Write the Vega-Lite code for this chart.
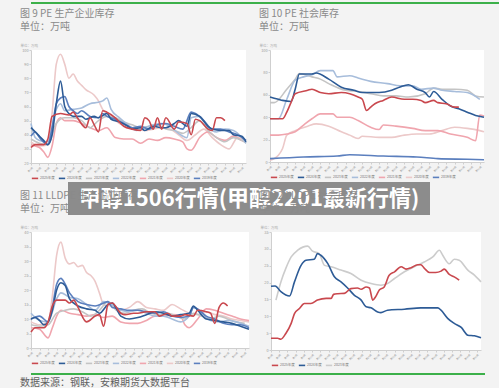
{
"$schema":"https://vega.github.io/schema/vega-lite/v6.json",
"padding":{"left":17,"top":2,"right":0,"bottom":0},
"spacing":-1,
"resolve":{"scale":{"color":"independent","strokeWidth":"independent"},"legend":{"color":"independent"}},
"config":{
 "background":"#f3f3f3",
 "font":"Noto Sans CJK SC",
 "view":{"stroke":null},
 "title":{"anchor":"start","fontSize":10,"fontWeight":"normal","color":"#8a8a8a","subtitleFontSize":10,"subtitleColor":"#8a8a8a","subtitlePadding":3.5,"offset":10.7,"dx":3,"font":"Noto Sans CJK SC","subtitleFont":"Noto Sans CJK SC"},
 "axis":{"labelFontSize":3.8,"labelColor":"#999","domainColor":"#cfcfcf","tickColor":"#cfcfcf","tickSize":2,"labelPadding":1,"grid":false},
 "axisY":{"minExtent":14,"maxExtent":14,"titleAngle":0,"titleAlign":"left","titleBaseline":"bottom","titleX":-11,"titleY":-3,"titleFontSize":3.5,"titleColor":"#aaa","titleFontWeight":"normal"},
 "axisX":{"labelAngle":-45,"labelFontSize":2.4,"title":null},
 "legend":{"orient":"bottom","direction":"horizontal","symbolType":"stroke","symbolSize":40,"symbolStrokeWidth":1.5,"labelFontSize":3.5,"labelColor":"#777","columnPadding":0,"offset":1,"padding":0,"labelOffset":1,"rowPadding":0},
 "line":{"interpolate":"monotone"}
},
"datasets":{
"p9":[
{"s":"2020年度","w":1,"v":35},{"s":"2020年度","w":3,"v":32},{"s":"2020年度","w":5,"v":33},{"s":"2020年度","w":6,"v":55},{"s":"2020年度","w":7,"v":90},{"s":"2020年度","w":8,"v":97},{"s":"2020年度","w":9,"v":90},{"s":"2020年度","w":10,"v":80},{"s":"2020年度","w":11,"v":83},{"s":"2020年度","w":12,"v":78},{"s":"2020年度","w":13,"v":75},{"s":"2020年度","w":14,"v":72},{"s":"2020年度","w":16,"v":68},{"s":"2020年度","w":17,"v":64},{"s":"2020年度","w":18,"v":58},{"s":"2020年度","w":19,"v":55},{"s":"2020年度","w":20,"v":53},{"s":"2020年度","w":22,"v":48},{"s":"2020年度","w":24,"v":46},{"s":"2020年度","w":26,"v":44},{"s":"2020年度","w":28,"v":43},{"s":"2020年度","w":30,"v":44},{"s":"2020年度","w":32,"v":45},{"s":"2020年度","w":34,"v":44},{"s":"2020年度","w":36,"v":40},{"s":"2020年度","w":38,"v":36},{"s":"2020年度","w":40,"v":40},{"s":"2020年度","w":42,"v":44},{"s":"2020年度","w":44,"v":38},{"s":"2020年度","w":46,"v":33},{"s":"2020年度","w":48,"v":30},{"s":"2020年度","w":50,"v":38},{"s":"2020年度","w":52,"v":36},
{"s":"2021年度","w":1,"v":33},{"s":"2021年度","w":2,"v":32},{"s":"2021年度","w":3,"v":31},{"s":"2021年度","w":4,"v":28},{"s":"2021年度","w":5,"v":24},{"s":"2021年度","w":6,"v":32},{"s":"2021年度","w":7,"v":48},{"s":"2021年度","w":8,"v":52},{"s":"2021年度","w":9,"v":50},{"s":"2021年度","w":11,"v":50},{"s":"2021年度","w":13,"v":48},{"s":"2021年度","w":15,"v":45},{"s":"2021年度","w":17,"v":43},{"s":"2021年度","w":19,"v":45},{"s":"2021年度","w":21,"v":38},{"s":"2021年度","w":23,"v":37},{"s":"2021年度","w":25,"v":37},{"s":"2021年度","w":27,"v":34},{"s":"2021年度","w":29,"v":37},{"s":"2021年度","w":31,"v":36},{"s":"2021年度","w":33,"v":38},{"s":"2021年度","w":35,"v":37},{"s":"2021年度","w":37,"v":35},{"s":"2021年度","w":38,"v":30},{"s":"2021年度","w":39,"v":29},{"s":"2021年度","w":41,"v":38},{"s":"2021年度","w":43,"v":42},{"s":"2021年度","w":45,"v":38},{"s":"2021年度","w":47,"v":36},{"s":"2021年度","w":49,"v":39},{"s":"2021年度","w":51,"v":36},{"s":"2021年度","w":52,"v":35},
{"s":"2023年度","w":1,"v":37},{"s":"2023年度","w":3,"v":34},{"s":"2023年度","w":5,"v":33},{"s":"2023年度","w":7,"v":48},{"s":"2023年度","w":9,"v":52},{"s":"2023年度","w":11,"v":52},{"s":"2023年度","w":13,"v":50},{"s":"2023年度","w":15,"v":45},{"s":"2023年度","w":17,"v":50},{"s":"2023年度","w":19,"v":53},{"s":"2023年度","w":21,"v":52},{"s":"2023年度","w":23,"v":49},{"s":"2023年度","w":25,"v":47},{"s":"2023年度","w":27,"v":45},{"s":"2023年度","w":29,"v":46},{"s":"2023年度","w":31,"v":47},{"s":"2023年度","w":33,"v":44},{"s":"2023年度","w":35,"v":43},{"s":"2023年度","w":37,"v":41},{"s":"2023年度","w":39,"v":45},{"s":"2023年度","w":41,"v":50},{"s":"2023年度","w":43,"v":43},{"s":"2023年度","w":45,"v":38},{"s":"2023年度","w":47,"v":35},{"s":"2023年度","w":49,"v":38},{"s":"2023年度","w":51,"v":36},{"s":"2023年度","w":52,"v":34},
{"s":"2022年度","w":1,"v":48},{"s":"2022年度","w":2,"v":38},{"s":"2022年度","w":3,"v":36},{"s":"2022年度","w":5,"v":35},{"s":"2022年度","w":7,"v":58},{"s":"2022年度","w":8,"v":62},{"s":"2022年度","w":9,"v":57},{"s":"2022年度","w":11,"v":58},{"s":"2022年度","w":13,"v":59},{"s":"2022年度","w":15,"v":62},{"s":"2022年度","w":17,"v":63},{"s":"2022年度","w":18,"v":64},{"s":"2022年度","w":19,"v":66},{"s":"2022年度","w":20,"v":58},{"s":"2022年度","w":22,"v":52},{"s":"2022年度","w":24,"v":47},{"s":"2022年度","w":26,"v":43},{"s":"2022年度","w":28,"v":45},{"s":"2022年度","w":30,"v":47},{"s":"2022年度","w":32,"v":48},{"s":"2022年度","w":34,"v":46},{"s":"2022年度","w":36,"v":41},{"s":"2022年度","w":38,"v":38},{"s":"2022年度","w":39,"v":52},{"s":"2022年度","w":41,"v":53},{"s":"2022年度","w":43,"v":45},{"s":"2022年度","w":45,"v":42},{"s":"2022年度","w":47,"v":44},{"s":"2022年度","w":49,"v":43},{"s":"2022年度","w":51,"v":38},{"s":"2022年度","w":52,"v":34},
{"s":"2019年度","w":1,"v":39},{"s":"2019年度","w":2,"v":42},{"s":"2019年度","w":3,"v":38},{"s":"2019年度","w":5,"v":33},{"s":"2019年度","w":6,"v":45},{"s":"2019年度","w":7,"v":62},{"s":"2019年度","w":8,"v":66},{"s":"2019年度","w":9,"v":67},{"s":"2019年度","w":10,"v":60},{"s":"2019年度","w":11,"v":57},{"s":"2019年度","w":12,"v":55},{"s":"2019年度","w":13,"v":57},{"s":"2019年度","w":15,"v":53},{"s":"2019年度","w":17,"v":52},{"s":"2019年度","w":18,"v":55},{"s":"2019年度","w":19,"v":53},{"s":"2019年度","w":21,"v":51},{"s":"2019年度","w":23,"v":48},{"s":"2019年度","w":25,"v":45},{"s":"2019年度","w":27,"v":46},{"s":"2019年度","w":29,"v":44},{"s":"2019年度","w":31,"v":47},{"s":"2019年度","w":33,"v":48},{"s":"2019年度","w":35,"v":46},{"s":"2019年度","w":37,"v":44},{"s":"2019年度","w":39,"v":56},{"s":"2019年度","w":40,"v":55},{"s":"2019年度","w":42,"v":50},{"s":"2019年度","w":44,"v":44},{"s":"2019年度","w":46,"v":44},{"s":"2019年度","w":48,"v":42},{"s":"2019年度","w":50,"v":40},{"s":"2019年度","w":52,"v":36},
{"s":"2024年度","w":1,"v":45},{"s":"2024年度","w":2,"v":42},{"s":"2024年度","w":3,"v":39},{"s":"2024年度","w":4,"v":36},{"s":"2024年度","w":5,"v":33},{"s":"2024年度","w":6,"v":40},{"s":"2024年度","w":7,"v":62},{"s":"2024年度","w":8,"v":78},{"s":"2024年度","w":9,"v":60},{"s":"2024年度","w":10,"v":55},{"s":"2024年度","w":11,"v":53},{"s":"2024年度","w":13,"v":53},{"s":"2024年度","w":14,"v":51},{"s":"2024年度","w":16,"v":53},{"s":"2024年度","w":17,"v":52},{"s":"2024年度","w":19,"v":55},{"s":"2024年度","w":20,"v":51},{"s":"2024年度","w":22,"v":49},{"s":"2024年度","w":24,"v":46},{"s":"2024年度","w":25,"v":44},{"s":"2024年度","w":27,"v":45},{"s":"2024年度","w":28,"v":43},{"s":"2024年度","w":30,"v":46},{"s":"2024年度","w":32,"v":45},{"s":"2024年度","w":33,"v":45},{"s":"2024年度","w":35,"v":48},{"s":"2024年度","w":36,"v":50},{"s":"2024年度","w":38,"v":46},{"s":"2024年度","w":39,"v":55},{"s":"2024年度","w":41,"v":53},{"s":"2024年度","w":43,"v":46},{"s":"2024年度","w":44,"v":44},{"s":"2024年度","w":46,"v":43},{"s":"2024年度","w":48,"v":43},{"s":"2024年度","w":49,"v":40},{"s":"2024年度","w":51,"v":39},{"s":"2024年度","w":52,"v":35},
{"s":"2025年度","w":1,"v":31},{"s":"2025年度","w":2,"v":33},{"s":"2025年度","w":4,"v":33},{"s":"2025年度","w":5,"v":37},{"s":"2025年度","w":6,"v":53},{"s":"2025年度","w":8,"v":55},{"s":"2025年度","w":10,"v":54},{"s":"2025年度","w":11,"v":56},{"s":"2025年度","w":12,"v":52},{"s":"2025年度","w":14,"v":45},{"s":"2025年度","w":15,"v":52},{"s":"2025年度","w":16,"v":47},{"s":"2025年度","w":17,"v":42},{"s":"2025年度","w":18,"v":57},{"s":"2025年度","w":19,"v":56},{"s":"2025年度","w":21,"v":52},{"s":"2025年度","w":23,"v":46},{"s":"2025年度","w":25,"v":44},{"s":"2025年度","w":27,"v":43},{"s":"2025年度","w":28,"v":52},{"s":"2025年度","w":29,"v":50},{"s":"2025年度","w":30,"v":44},{"s":"2025年度","w":31,"v":52},{"s":"2025年度","w":32,"v":44},{"s":"2025年度","w":33,"v":52},{"s":"2025年度","w":35,"v":44},{"s":"2025年度","w":36,"v":49},{"s":"2025年度","w":38,"v":48},{"s":"2025年度","w":39,"v":40},{"s":"2025年度","w":40,"v":51},{"s":"2025年度","w":41,"v":50},{"s":"2025年度","w":43,"v":44},{"s":"2025年度","w":44,"v":43},{"s":"2025年度","w":45,"v":52},{"s":"2025年度","w":46,"v":52},{"s":"2025年度","w":47,"v":50}
],
"p10":[
{"s":"2020年度","w":1,"v":1.5},{"s":"2020年度","w":2,"v":3},{"s":"2020年度","w":3,"v":6},{"s":"2020年度","w":4,"v":12},{"s":"2020年度","w":5,"v":24},{"s":"2020年度","w":7,"v":28},{"s":"2020年度","w":10,"v":32},{"s":"2020年度","w":12,"v":34},{"s":"2020年度","w":15,"v":32},{"s":"2020年度","w":18,"v":27},{"s":"2020年度","w":20,"v":24},{"s":"2020年度","w":22,"v":21},{"s":"2020年度","w":23,"v":23},{"s":"2020年度","w":27,"v":22},{"s":"2020年度","w":30,"v":22},{"s":"2020年度","w":33,"v":24},{"s":"2020年度","w":36,"v":25},{"s":"2020年度","w":39,"v":25},{"s":"2020年度","w":42,"v":28},{"s":"2020年度","w":45,"v":31},{"s":"2020年度","w":48,"v":30},{"s":"2020年度","w":51,"v":28},{"s":"2020年度","w":52,"v":27},
{"s":"2021年度","w":1,"v":24},{"s":"2021年度","w":3,"v":24},{"s":"2021年度","w":5,"v":25},{"s":"2021年度","w":7,"v":27},{"s":"2021年度","w":9,"v":33},{"s":"2021年度","w":11,"v":38.6},{"s":"2021年度","w":13,"v":43},{"s":"2021年度","w":16,"v":43},{"s":"2021年度","w":17,"v":40},{"s":"2021年度","w":20,"v":40},{"s":"2021年度","w":22,"v":37},{"s":"2021年度","w":25,"v":31},{"s":"2021年度","w":27,"v":29},{"s":"2021年度","w":28,"v":33},{"s":"2021年度","w":31,"v":32},{"s":"2021年度","w":35,"v":30},{"s":"2021年度","w":38,"v":28},{"s":"2021年度","w":41,"v":28},{"s":"2021年度","w":44,"v":25},{"s":"2021年度","w":48,"v":22},{"s":"2021年度","w":50,"v":19},{"s":"2021年度","w":51,"v":42},{"s":"2021年度","w":52,"v":41},
{"s":"2023年度","w":1,"v":53},{"s":"2023年度","w":2,"v":53},{"s":"2023年度","w":5,"v":65},{"s":"2023年度","w":7,"v":74},{"s":"2023年度","w":8,"v":79},{"s":"2023年度","w":11,"v":76},{"s":"2023年度","w":13,"v":74},{"s":"2023年度","w":15,"v":70},{"s":"2023年度","w":19,"v":64},{"s":"2023年度","w":22,"v":63},{"s":"2023年度","w":25,"v":61},{"s":"2023年度","w":28,"v":59},{"s":"2023年度","w":31,"v":59},{"s":"2023年度","w":34,"v":58},{"s":"2023年度","w":38,"v":61},{"s":"2023年度","w":40,"v":66},{"s":"2023年度","w":42,"v":65},{"s":"2023年度","w":45,"v":65},{"s":"2023年度","w":48,"v":64},{"s":"2023年度","w":50,"v":59},{"s":"2023年度","w":52,"v":58},
{"s":"2022年度","w":1,"v":38.6},{"s":"2022年度","w":3,"v":38.6},{"s":"2022年度","w":5,"v":56},{"s":"2022年度","w":7,"v":73},{"s":"2022年度","w":9,"v":76},{"s":"2022年度","w":11,"v":78},{"s":"2022年度","w":13,"v":81.6},{"s":"2022年度","w":16,"v":81.6},{"s":"2022年度","w":17,"v":76},{"s":"2022年度","w":20,"v":77},{"s":"2022年度","w":22,"v":75},{"s":"2022年度","w":25,"v":72},{"s":"2022年度","w":29,"v":70},{"s":"2022年度","w":32,"v":68},{"s":"2022年度","w":35,"v":68},{"s":"2022年度","w":37,"v":65},{"s":"2022年度","w":40,"v":66},{"s":"2022年度","w":42,"v":64},{"s":"2022年度","w":45,"v":63},{"s":"2022年度","w":48,"v":62},{"s":"2022年度","w":51,"v":56},
{"s":"2019年度","w":1,"v":3},{"s":"2019年度","w":9,"v":4.5},{"s":"2019年度","w":17,"v":5.3},{"s":"2019年度","w":20,"v":6.5},{"s":"2019年度","w":28,"v":5.3},{"s":"2019年度","w":36,"v":4.5},{"s":"2019年度","w":41,"v":3},{"s":"2019年度","w":48,"v":2.4},{"s":"2019年度","w":52,"v":2},
{"s":"2024年度","w":1,"v":58},{"s":"2024年度","w":3,"v":56},{"s":"2024年度","w":4,"v":55},{"s":"2024年度","w":6,"v":54},{"s":"2024年度","w":7,"v":65},{"s":"2024年度","w":8,"v":78.6},{"s":"2024年度","w":11,"v":78.6},{"s":"2024年度","w":12,"v":79.5},{"s":"2024年度","w":15,"v":74},{"s":"2024年度","w":18,"v":66.8},{"s":"2024年度","w":21,"v":64},{"s":"2024年度","w":23,"v":62},{"s":"2024年度","w":27,"v":62},{"s":"2024年度","w":30,"v":64},{"s":"2024年度","w":32,"v":67},{"s":"2024年度","w":34,"v":69},{"s":"2024年度","w":36,"v":65},{"s":"2024年度","w":38,"v":62},{"s":"2024年度","w":39,"v":58},{"s":"2024年度","w":40,"v":63},{"s":"2024年度","w":42,"v":56},{"s":"2024年度","w":44,"v":50},{"s":"2024年度","w":46,"v":47.5},{"s":"2024年度","w":48,"v":44.5},{"s":"2024年度","w":50,"v":41.5},{"s":"2024年度","w":52,"v":40},
{"s":"2025年度","w":1,"v":38.6},{"s":"2025年度","w":4,"v":38.6},{"s":"2025年度","w":5,"v":44.5},{"s":"2025年度","w":6,"v":53},{"s":"2025年度","w":7,"v":61},{"s":"2025年度","w":10,"v":64},{"s":"2025年度","w":11,"v":65},{"s":"2025年度","w":13,"v":62},{"s":"2025年度","w":15,"v":61},{"s":"2025年度","w":18,"v":62},{"s":"2025年度","w":20,"v":61},{"s":"2025年度","w":22,"v":58},{"s":"2025年度","w":23,"v":56},{"s":"2025年度","w":24,"v":46},{"s":"2025年度","w":25,"v":49},{"s":"2025年度","w":26,"v":52},{"s":"2025年度","w":28,"v":55},{"s":"2025年度","w":30,"v":58},{"s":"2025年度","w":33,"v":56},{"s":"2025年度","w":35,"v":56},{"s":"2025年度","w":37,"v":55},{"s":"2025年度","w":38,"v":53},{"s":"2025年度","w":40,"v":55},{"s":"2025年度","w":41,"v":53},{"s":"2025年度","w":43,"v":52},{"s":"2025年度","w":45,"v":49},{"s":"2025年度","w":46,"v":49}
],
"p11":[
{"s":"2020年度","w":1,"v":9},{"s":"2020年度","w":3,"v":8},{"s":"2020年度","w":5,"v":9},{"s":"2020年度","w":6,"v":18},{"s":"2020年度","w":7,"v":32},{"s":"2020年度","w":8,"v":36.5},{"s":"2020年度","w":9,"v":31},{"s":"2020年度","w":10,"v":29},{"s":"2020年度","w":11,"v":29.5},{"s":"2020年度","w":12,"v":28},{"s":"2020年度","w":13,"v":28.5},{"s":"2020年度","w":14,"v":26},{"s":"2020年度","w":15,"v":25},{"s":"2020年度","w":16,"v":23},{"s":"2020年度","w":17,"v":19},{"s":"2020年度","w":18,"v":15},{"s":"2020年度","w":19,"v":14.5},{"s":"2020年度","w":20,"v":15},{"s":"2020年度","w":22,"v":13},{"s":"2020年度","w":24,"v":14},{"s":"2020年度","w":26,"v":16},{"s":"2020年度","w":28,"v":14},{"s":"2020年度","w":30,"v":13.5},{"s":"2020年度","w":32,"v":13},{"s":"2020年度","w":34,"v":15},{"s":"2020年度","w":36,"v":13.5},{"s":"2020年度","w":38,"v":12},{"s":"2020年度","w":40,"v":11.5},{"s":"2020年度","w":42,"v":12.5},{"s":"2020年度","w":44,"v":11.5},{"s":"2020年度","w":46,"v":11},{"s":"2020年度","w":48,"v":10},{"s":"2020年度","w":50,"v":9.5},{"s":"2020年度","w":52,"v":9},
{"s":"2021年度","w":1,"v":7},{"s":"2021年度","w":3,"v":6.5},{"s":"2021年度","w":5,"v":3.5},{"s":"2021年度","w":6,"v":7},{"s":"2021年度","w":7,"v":11},{"s":"2021年度","w":8,"v":13},{"s":"2021年度","w":10,"v":12},{"s":"2021年度","w":12,"v":11.5},{"s":"2021年度","w":14,"v":11},{"s":"2021年度","w":16,"v":11.5},{"s":"2021年度","w":18,"v":10.5},{"s":"2021年度","w":20,"v":11},{"s":"2021年度","w":22,"v":9},{"s":"2021年度","w":24,"v":8.5},{"s":"2021年度","w":26,"v":8.5},{"s":"2021年度","w":28,"v":9.5},{"s":"2021年度","w":30,"v":11},{"s":"2021年度","w":32,"v":11},{"s":"2021年度","w":34,"v":11.5},{"s":"2021年度","w":36,"v":11},{"s":"2021年度","w":37,"v":8},{"s":"2021年度","w":38,"v":7},{"s":"2021年度","w":40,"v":10},{"s":"2021年度","w":42,"v":13.5},{"s":"2021年度","w":44,"v":13},{"s":"2021年度","w":46,"v":12},{"s":"2021年度","w":48,"v":11},{"s":"2021年度","w":50,"v":10},{"s":"2021年度","w":52,"v":9.5},
{"s":"2023年度","w":1,"v":8},{"s":"2023年度","w":3,"v":7.5},{"s":"2023年度","w":5,"v":8},{"s":"2023年度","w":7,"v":12},{"s":"2023年度","w":9,"v":13},{"s":"2023年度","w":11,"v":13.5},{"s":"2023年度","w":13,"v":12.5},{"s":"2023年度","w":15,"v":11},{"s":"2023年度","w":17,"v":13},{"s":"2023年度","w":19,"v":16},{"s":"2023年度","w":21,"v":13},{"s":"2023年度","w":23,"v":12},{"s":"2023年度","w":25,"v":13},{"s":"2023年度","w":27,"v":13.5},{"s":"2023年度","w":29,"v":12},{"s":"2023年度","w":31,"v":11.5},{"s":"2023年度","w":33,"v":12},{"s":"2023年度","w":35,"v":11},{"s":"2023年度","w":37,"v":10},{"s":"2023年度","w":39,"v":12},{"s":"2023年度","w":41,"v":11},{"s":"2023年度","w":43,"v":10},{"s":"2023年度","w":45,"v":11},{"s":"2023年度","w":47,"v":10},{"s":"2023年度","w":49,"v":9},{"s":"2023年度","w":51,"v":8.5},
{"s":"2022年度","w":1,"v":12},{"s":"2022年度","w":3,"v":9.5},{"s":"2022年度","w":5,"v":9},{"s":"2022年度","w":7,"v":17},{"s":"2022年度","w":8,"v":19},{"s":"2022年度","w":10,"v":17.5},{"s":"2022年度","w":12,"v":17},{"s":"2022年度","w":14,"v":15},{"s":"2022年度","w":16,"v":13},{"s":"2022年度","w":18,"v":16},{"s":"2022年度","w":20,"v":15},{"s":"2022年度","w":22,"v":13},{"s":"2022年度","w":24,"v":12.5},{"s":"2022年度","w":26,"v":13},{"s":"2022年度","w":28,"v":12},{"s":"2022年度","w":30,"v":11},{"s":"2022年度","w":32,"v":11},{"s":"2022年度","w":34,"v":10},{"s":"2022年度","w":36,"v":9},{"s":"2022年度","w":38,"v":11},{"s":"2022年度","w":39,"v":14},{"s":"2022年度","w":41,"v":12},{"s":"2022年度","w":43,"v":9.5},{"s":"2022年度","w":45,"v":9},{"s":"2022年度","w":47,"v":9.5},{"s":"2022年度","w":49,"v":9},{"s":"2022年度","w":51,"v":8},{"s":"2022年度","w":52,"v":7.5},
{"s":"2019年度","w":1,"v":10},{"s":"2019年度","w":3,"v":11},{"s":"2019年度","w":5,"v":9},{"s":"2019年度","w":6,"v":14},{"s":"2019年度","w":7,"v":22},{"s":"2019年度","w":8,"v":24},{"s":"2019年度","w":9,"v":22},{"s":"2019年度","w":10,"v":19},{"s":"2019年度","w":12,"v":16},{"s":"2019年度","w":14,"v":15},{"s":"2019年度","w":16,"v":14.5},{"s":"2019年度","w":18,"v":15.5},{"s":"2019年度","w":19,"v":16},{"s":"2019年度","w":20,"v":14},{"s":"2019年度","w":22,"v":13.5},{"s":"2019年度","w":24,"v":13},{"s":"2019年度","w":26,"v":13},{"s":"2019年度","w":28,"v":12.5},{"s":"2019年度","w":30,"v":12},{"s":"2019年度","w":32,"v":12.5},{"s":"2019年度","w":34,"v":11},{"s":"2019年度","w":36,"v":10.5},{"s":"2019年度","w":38,"v":11},{"s":"2019年度","w":39,"v":14},{"s":"2019年度","w":40,"v":13.5},{"s":"2019年度","w":42,"v":11},{"s":"2019年度","w":44,"v":10},{"s":"2019年度","w":46,"v":8.5},{"s":"2019年度","w":48,"v":8},{"s":"2019年度","w":50,"v":8},{"s":"2019年度","w":52,"v":7},
{"s":"2024年度","w":1,"v":10},{"s":"2024年度","w":2,"v":10.5},{"s":"2024年度","w":3,"v":9.5},{"s":"2024年度","w":4,"v":8},{"s":"2024年度","w":5,"v":9},{"s":"2024年度","w":6,"v":13},{"s":"2024年度","w":7,"v":20},{"s":"2024年度","w":8,"v":22.5},{"s":"2024年度","w":9,"v":21.5},{"s":"2024年度","w":10,"v":17},{"s":"2024年度","w":11,"v":15.5},{"s":"2024年度","w":12,"v":14.5},{"s":"2024年度","w":14,"v":13.5},{"s":"2024年度","w":16,"v":13},{"s":"2024年度","w":17,"v":12},{"s":"2024年度","w":19,"v":15},{"s":"2024年度","w":20,"v":15.5},{"s":"2024年度","w":21,"v":13.5},{"s":"2024年度","w":22,"v":11},{"s":"2024年度","w":24,"v":10},{"s":"2024年度","w":26,"v":10.5},{"s":"2024年度","w":28,"v":11.5},{"s":"2024年度","w":30,"v":12.5},{"s":"2024年度","w":32,"v":12},{"s":"2024年度","w":34,"v":11},{"s":"2024年度","w":36,"v":11.5},{"s":"2024年度","w":38,"v":12},{"s":"2024年度","w":39,"v":14.5},{"s":"2024年度","w":40,"v":13},{"s":"2024年度","w":42,"v":10},{"s":"2024年度","w":44,"v":9.5},{"s":"2024年度","w":46,"v":9},{"s":"2024年度","w":48,"v":8.5},{"s":"2024年度","w":50,"v":7.5},{"s":"2024年度","w":52,"v":6.5},
{"s":"2025年度","w":1,"v":5.5},{"s":"2025年度","w":2,"v":7},{"s":"2025年度","w":4,"v":7},{"s":"2025年度","w":5,"v":9},{"s":"2025年度","w":6,"v":14.5},{"s":"2025年度","w":7,"v":16.5},{"s":"2025年度","w":9,"v":16.5},{"s":"2025年度","w":10,"v":15.5},{"s":"2025年度","w":11,"v":16.5},{"s":"2025年度","w":12,"v":14},{"s":"2025年度","w":14,"v":9},{"s":"2025年度","w":16,"v":11},{"s":"2025年度","w":17,"v":11.5},{"s":"2025年度","w":18,"v":7.5},{"s":"2025年度","w":19,"v":15},{"s":"2025年度","w":20,"v":15.5},{"s":"2025年度","w":22,"v":12},{"s":"2025年度","w":23,"v":11.5},{"s":"2025年度","w":25,"v":12},{"s":"2025年度","w":26,"v":12},{"s":"2025年度","w":28,"v":12.5},{"s":"2025年度","w":30,"v":12.5},{"s":"2025年度","w":31,"v":11},{"s":"2025年度","w":33,"v":12},{"s":"2025年度","w":34,"v":11},{"s":"2025年度","w":36,"v":11},{"s":"2025年度","w":37,"v":11.5},{"s":"2025年度","w":39,"v":11},{"s":"2025年度","w":40,"v":13},{"s":"2025年度","w":42,"v":12.5},{"s":"2025年度","w":43,"v":12},{"s":"2025年度","w":44,"v":8.5},{"s":"2025年度","w":45,"v":14},{"s":"2025年度","w":46,"v":15.5},{"s":"2025年度","w":47,"v":14.5}
],
"p12":[
{"s":"2023年度","w":2.2,"v":14.8},{"s":"2023年度","w":3.4,"v":20.2},{"s":"2023年度","w":4.6,"v":24.2},{"s":"2023年度","w":5.9,"v":27.6},{"s":"2023年度","w":7.5,"v":29.6},{"s":"2023年度","w":9.9,"v":30.8},{"s":"2023年度","w":11.1,"v":29.3},{"s":"2023年度","w":12.7,"v":28.6},{"s":"2023年度","w":14,"v":25.1},{"s":"2023年度","w":15.6,"v":24.7},{"s":"2023年度","w":18,"v":23.7},{"s":"2023年度","w":20.4,"v":22.7},{"s":"2023年度","w":22.9,"v":20.7},{"s":"2023年度","w":25.3,"v":19.7},{"s":"2023年度","w":27.7,"v":19.2},{"s":"2023年度","w":29.3,"v":19.7},{"s":"2023年度","w":31,"v":21.2},{"s":"2023年度","w":33.4,"v":23.2},{"s":"2023年度","w":35.8,"v":24.7},{"s":"2023年度","w":38.2,"v":26.1},{"s":"2023年度","w":40.3,"v":27.6},{"s":"2023年度","w":41.9,"v":29.6},{"s":"2023年度","w":42.7,"v":28.1},{"s":"2023年度","w":44.3,"v":25.6},{"s":"2023年度","w":45.5,"v":26.9},{"s":"2023年度","w":46.7,"v":26.6},{"s":"2023年度","w":48.8,"v":23.7},{"s":"2023年度","w":50.4,"v":22.2},{"s":"2023年度","w":52,"v":20.2},
{"s":"2024年度","w":1,"v":18.9},{"s":"2024年度","w":2,"v":19},{"s":"2024年度","w":3.4,"v":17.3},{"s":"2024年度","w":4.6,"v":16.3},{"s":"2024年度","w":5.5,"v":16},{"s":"2024年度","w":6.7,"v":20.2},{"s":"2024年度","w":8.3,"v":25.1},{"s":"2024年度","w":9.5,"v":26.6},{"s":"2024年度","w":11.5,"v":26.9},{"s":"2024年度","w":12.3,"v":28.6},{"s":"2024年度","w":13.1,"v":28.1},{"s":"2024年度","w":14.8,"v":25.6},{"s":"2024年度","w":16.4,"v":21.7},{"s":"2024年度","w":18,"v":20.2},{"s":"2024年度","w":19.6,"v":18.4},{"s":"2024年度","w":21.2,"v":16.3},{"s":"2024年度","w":22.9,"v":14.8},{"s":"2024年度","w":24.1,"v":12.8},{"s":"2024年度","w":25.3,"v":12.5},{"s":"2024年度","w":26.9,"v":11.3},{"s":"2024年度","w":27.7,"v":11.1},{"s":"2024年度","w":29.3,"v":11.8},{"s":"2024年度","w":33.4,"v":12.1},{"s":"2024年度","w":37.4,"v":12.5},{"s":"2024年度","w":41.5,"v":12.5},{"s":"2024年度","w":42.3,"v":11.8},{"s":"2024年度","w":43.9,"v":9.4},{"s":"2024年度","w":45.5,"v":7.9},{"s":"2024年度","w":47.2,"v":6.7},{"s":"2024年度","w":48.8,"v":4.4},{"s":"2024年度","w":50.4,"v":4.2},{"s":"2024年度","w":52,"v":3.6},
{"s":"2025年度","w":1,"v":3.5},{"s":"2025年度","w":2.6,"v":3.5},{"s":"2025年度","w":3.4,"v":3.2},{"s":"2025年度","w":4.6,"v":4.9},{"s":"2025年度","w":5.9,"v":7.9},{"s":"2025年度","w":6.7,"v":10.8},{"s":"2025年度","w":7.9,"v":12.3},{"s":"2025年度","w":9.1,"v":13.8},{"s":"2025年度","w":10.7,"v":13.8},{"s":"2025年度","w":12.3,"v":14.8},{"s":"2025年度","w":14.4,"v":15.3},{"s":"2025年度","w":15.6,"v":15.3},{"s":"2025年度","w":16.2,"v":16.5},{"s":"2025年度","w":17.2,"v":16.7},{"s":"2025年度","w":18.8,"v":16.8},{"s":"2025年度","w":20.4,"v":18.2},{"s":"2025年度","w":22,"v":18.4},{"s":"2025年度","w":22.9,"v":18},{"s":"2025年度","w":24.1,"v":18.7},{"s":"2025年度","w":24.9,"v":18.4},{"s":"2025年度","w":25.7,"v":14.8},{"s":"2025年度","w":26.4,"v":15.8},{"s":"2025年度","w":27.3,"v":17.8},{"s":"2025年度","w":28.5,"v":18.7},{"s":"2025年度","w":29.7,"v":22.2},{"s":"2025年度","w":31,"v":23.2},{"s":"2025年度","w":32.6,"v":24.7},{"s":"2025年度","w":33.8,"v":24},{"s":"2025年度","w":35,"v":24.4},{"s":"2025年度","w":36.6,"v":25.3},{"s":"2025年度","w":37.4,"v":25.3},{"s":"2025年度","w":38.2,"v":24.3},{"s":"2025年度","w":39.5,"v":23},{"s":"2025年度","w":41,"v":23},{"s":"2025年度","w":42.3,"v":23.4},{"s":"2025年度","w":43.1,"v":24},{"s":"2025年度","w":44.3,"v":22.4},{"s":"2025年度","w":45.5,"v":21.7},{"s":"2025年度","w":46.7,"v":20.7}
]
},
"vconcat":[
{"spacing":4,
 "resolve":{"scale":{"color":"independent","strokeWidth":"independent"},"legend":{"color":"independent"}},
 "vconcat":[
  {"width":468,"height":2,"data":{"values":[{}]},"mark":{"type":"text","fontSize":0},"encoding":{"text":{"value":""}},"view":{"fill":"#3cb04a","stroke":null}},
  {"spacing":6,
   "resolve":{"scale":{"color":"independent","strokeWidth":"independent"},"legend":{"color":"independent"}},
   "hconcat":[
    {"width":215,"height":113,"data":{"name":"p9"},
     "title":{"text":"图 9 PE 生产企业库存","subtitle":"单位：万吨"},
     "view":{"fill":"white","stroke":null},
     "mark":{"type":"line"},
     "encoding":{
      "x":{"field":"w","type":"quantitative","scale":{"domain":[1,52],"nice":false},"axis":{"values":[1,3,5,7,9,11,13,15,17,19,21,23,25,27,29,31,33,35,37,39,41,43,45,47,49,51],"labelExpr":"'第'+datum.value+'周'"}},
      "y":{"field":"v","type":"quantitative","scale":{"domain":[20,100],"nice":false},"axis":{"values":[20,30,40,50,60,70,80,90,100],"title":"单位：万吨"}},
      "color":{"field":"s","type":"nominal","scale":{"domain":["2025年度","2024年度","2023年度","2022年度","2021年度","2020年度","2019年度"],"range":["#c9484e","#2d5b96","#c4c4c4","#a7bddb","#f0a5ae","#ecc9c9","#5b7fbe"]},"legend":{"title":null}},
      "strokeWidth":{"field":"s","type":"nominal","scale":{"domain":["2025年度","2024年度","2023年度","2022年度","2021年度","2020年度","2019年度"],"range":[1.6,1.6,1,1,1,1,1.2]},"legend":null}
     }},
    {"width":214,"height":112,"data":{"name":"p10"},
     "title":{"text":"图 10 PE 社会库存","subtitle":"单位：万吨"},
     "view":{"fill":"white","stroke":null},
     "mark":{"type":"line"},
     "encoding":{
      "x":{"field":"w","type":"quantitative","scale":{"domain":[1,52],"nice":false},"axis":{"values":[1,3,5,7,9,11,13,15,17,19,21,23,25,27,29,31,33,35,37,39,41,43,45,47,49,51],"labelExpr":"'第'+datum.value+'周'"}},
      "y":{"field":"v","type":"quantitative","scale":{"domain":[0,100],"nice":false},"axis":{"values":[0,20,40,60,80,100],"title":"单位：万吨"}},
      "color":{"field":"s","type":"nominal","scale":{"domain":["2025年度","2024年度","2023年度","2022年度","2021年度","2020年度","2019年度"],"range":["#c9484e","#2d5b96","#c4c4c4","#a7bddb","#f0a5ae","#ecc9c9","#5b7fbe"]},"legend":{"title":null}},
      "strokeWidth":{"field":"s","type":"nominal","scale":{"domain":["2025年度","2024年度","2023年度","2022年度","2021年度","2020年度","2019年度"],"range":[1.6,1.6,1,1,1,1,1.2]},"legend":null}
     }}
   ]}
 ]},
{"spacing":4,
 "resolve":{"scale":{"color":"independent","strokeWidth":"independent"},"legend":{"color":"independent"}},
 "vconcat":[
  {"spacing":-25,
   "resolve":{"scale":{"color":"independent","strokeWidth":"independent"},"legend":{"color":"independent"}},
   "vconcat":[
    {"spacing":14,
     "hconcat":[
      {"width":23,"height":33,"data":{"values":[{}]},"mark":{"type":"text","fontSize":0},"encoding":{"text":{"value":""}}},
      {"width":362,"height":33,"data":{"values":[{"t":"甲醇1506行情(甲醇2201最新行情)"}]},
       "view":{"fill":"#868686","fillOpacity":0.95,"stroke":null},
       "mark":{"type":"text","fontSize":22,"fontWeight":"bold","color":"#ffffff","font":"Noto Sans CJK SC"},
       "encoding":{"text":{"field":"t"}}}
     ]},
    {"spacing":4,
     "resolve":{"scale":{"color":"independent","strokeWidth":"independent"},"legend":{"color":"independent"}},
     "hconcat":[
      {"width":218,"height":116,"data":{"name":"p11"},
       "title":{"text":"图 11 LLDPE 生产企业库存","subtitle":"单位：万吨"},
       "view":{"fill":"white","stroke":null},
       "mark":{"type":"line"},
       "encoding":{
        "x":{"field":"w","type":"quantitative","scale":{"domain":[1,52],"nice":false},"axis":{"values":[1,3,5,7,9,11,13,15,17,19,21,23,25,27,29,31,33,35,37,39,41,43,45,47,49,51],"labelExpr":"'第'+datum.value+'周'"}},
        "y":{"field":"v","type":"quantitative","scale":{"domain":[0,40],"nice":false},"axis":{"values":[0,5,10,15,20,25,30,35,40],"title":"单位：万吨"}},
        "color":{"field":"s","type":"nominal","scale":{"domain":["2025年度","2024年度","2023年度","2022年度","2021年度","2020年度","2019年度"],"range":["#c9484e","#2d5b96","#c4c4c4","#a7bddb","#f0a5ae","#ecc9c9","#5b7fbe"]},"legend":{"title":null}},
        "strokeWidth":{"field":"s","type":"nominal","scale":{"domain":["2025年度","2024年度","2023年度","2022年度","2021年度","2020年度","2019年度"],"range":[1.6,1.6,1,1,1,1,1.2]},"legend":null}
       }},
      {"width":210,"height":118,"data":{"name":"p12"},
       "title":{"text":"图 12 LLDPE 社会库存","subtitle":"单位：万吨"},
       "view":{"fill":"white","stroke":null},
       "mark":{"type":"line"},
       "encoding":{
        "x":{"field":"w","type":"quantitative","scale":{"domain":[1,52],"nice":false},"axis":{"values":[1,3,5,7,9,11,13,15,17,19,21,23,25,27,29,31,33,35,37,39,41,43,45,47,49,51],"labelExpr":"'第'+datum.value+'周'"}},
        "y":{"field":"v","type":"quantitative","scale":{"domain":[0,35],"nice":false},"axis":{"values":[0,5,10,15,20,25,30,35],"title":"单位：万吨"}},
        "color":{"field":"s","type":"nominal","scale":{"domain":["2025年度","2024年度","2023年度"],"range":["#c9484e","#2d5b96","#cccccc"]},"legend":{"title":null}},
        "strokeWidth":{"field":"s","type":"nominal","scale":{"domain":["2025年度","2024年度","2023年度"],"range":[1.6,1.6,1.2]},"legend":null}
       }}
     ]}
   ]},
  {"width":454,"height":2,"data":{"values":[{}]},"mark":{"type":"text","fontSize":0},"encoding":{"text":{"value":""}},"view":{"fill":"#3cb04a","stroke":null},
   "title":{"text":"数据来源：钢联，安粮期货大数据平台","orient":"bottom","anchor":"start","offset":3,"dx":-11,"fontSize":10,"color":"#606060"}}
 ]}
]
}
